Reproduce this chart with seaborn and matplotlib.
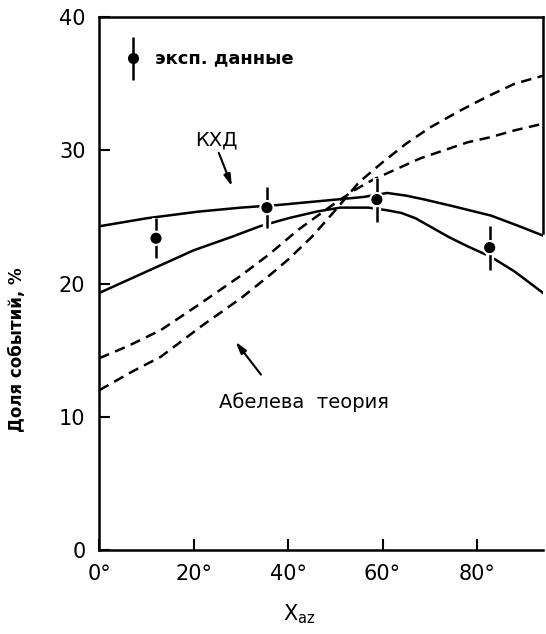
import numpy as np
import pandas as pd
import matplotlib
matplotlib.use("Agg")
import matplotlib.pyplot as plt
import matplotlib.patheffects as pe
import seaborn as sns

# Experimental points: azimuthal angle (deg), event share (%), error (%)
exp_angle = [12.0, 35.5, 58.8, 82.7]
exp_share = [23.4, 25.7, 26.3, 22.7]
exp_err = [1.5, 1.55, 1.65, 1.65]

# QCD predictions (solid curves)
qcd_hi_angle = [0, 10, 21, 30, 38, 47, 56, 61, 65, 69, 75, 83, 89, 94]
qcd_hi_share = [24.3, 24.9, 25.4, 25.7, 25.9, 26.2, 26.5, 26.8, 26.6, 26.3, 25.8, 25.1, 24.3, 23.6]
qcd_lo_angle = [0, 10, 20, 28, 34, 40, 46, 51, 57, 61, 64, 67, 70, 74, 78, 83, 88, 94]
qcd_lo_share = [19.3, 20.9, 22.5, 23.5, 24.3, 24.9, 25.4, 25.7, 25.7, 25.5, 25.3, 24.9, 24.3, 23.5, 22.8, 22.0, 20.9, 19.3]

# Abelian theory predictions (dashed curves)
ab1_angle = [0, 6, 13, 21, 30, 36, 42, 49, 54, 58, 63, 68, 73, 78, 83, 88, 94]
ab1_share = [14.4, 15.3, 16.5, 18.4, 20.6, 22.2, 24.0, 25.8, 27.0, 27.8, 28.6, 29.4, 30.0, 30.6, 31.0, 31.5, 32.0]
ab2_angle = [0, 7, 13, 22, 30, 36, 40, 45, 50, 55, 60, 65, 70, 76, 82, 88, 94]
ab2_share = [12.0, 13.4, 14.5, 16.9, 18.9, 20.6, 21.8, 23.5, 25.5, 27.6, 29.1, 30.5, 31.7, 32.9, 34.0, 35.0, 35.6]

y_ticks = [0, 10, 20, 30, 40]
x_ticks = [0, 20, 40, 60, 80]
x_ticklabels = ["0°", "20°", "40°", "60°", "80°"]

sns.set_style("ticks")
plt.rcParams["font.family"] = ["DejaVu Sans"]
plt.rcParams.update({"text.color": "black", "axes.labelcolor": "black",
                     "xtick.color": "black", "ytick.color": "black"})

fig = plt.figure(figsize=(5.46, 6.34), dpi=100)
ax = fig.add_axes([0.182, 0.1325, 0.8125, 0.8405])

curves = pd.concat([
    pd.DataFrame({"angle": qcd_hi_angle, "share": qcd_hi_share, "curve": "qcd_hi"}),
    pd.DataFrame({"angle": qcd_lo_angle, "share": qcd_lo_share, "curve": "qcd_lo"}),
    pd.DataFrame({"angle": ab1_angle, "share": ab1_share, "curve": "ab1"}),
    pd.DataFrame({"angle": ab2_angle, "share": ab2_share, "curve": "ab2"}),
])

for name, ls in [("qcd_hi", "-"), ("qcd_lo", "-"),
                 ("ab1", (0, (4.2, 2.6))), ("ab2", (0, (4.2, 2.6)))]:
    sub = curves[curves["curve"] == name]
    sns.lineplot(data=sub, x="angle", y="share", ax=ax, color="black",
                 linewidth=1.8, linestyle=ls, sort=True, estimator=None,
                 legend=False)

halo = [pe.Stroke(linewidth=6, foreground="white"), pe.Normal()]
eb = ax.errorbar(exp_angle, exp_share, yerr=exp_err, fmt="o", color="black",
                 markersize=7, elinewidth=1.8, capsize=0, zorder=5)
eb[0].set_path_effects([pe.Stroke(linewidth=4, foreground="white"), pe.Normal()])
for coll in eb[2]:
    coll.set_path_effects(halo)

# legend entry drawn as a sample point
ax.errorbar([7.1], [36.9], yerr=[1.6], fmt="o", color="black",
            markersize=7, elinewidth=1.8, capsize=0, zorder=5)
ax.text(11.8, 36.9, "эксп. данные", fontsize=13, fontweight="bold",
        va="center", ha="left", color="black")

# curve annotations
ax.text(24.7, 30.8, "КХД", fontsize=14, ha="center", va="center", color="black")
ax.annotate("", xy=(28.3, 27.1), xytext=(25.1, 30.0),
            arrowprops=dict(arrowstyle="-|>,head_length=0.7,head_width=0.2",
                            color="black", lw=1.5))
ax.text(43.3, 11.1, "Абелева  теория", fontsize=14, ha="center", va="center",
        color="black")
ax.annotate("", xy=(28.5, 15.8), xytext=(34.6, 13.0),
            arrowprops=dict(arrowstyle="-|>,head_length=0.7,head_width=0.2",
                            color="black", lw=1.5))

ax.set_xlim(0, 94)
ax.set_ylim(0, 40)
ax.set_yticks(y_ticks)
ax.set_xticks(x_ticks)
ax.set_xticklabels(x_ticklabels)
ax.tick_params(direction="in", length=8, width=1.5, labelsize=15, pad=10,
               colors="black")

for side in ["left", "bottom", "top", "right"]:
    ax.spines[side].set_linewidth(1.8)
    ax.spines[side].set_color("black")
ax.spines["right"].set_bounds(23.8, 40)

ax.set_xlabel(r"X$_{\mathregular{az}}$", fontsize=15, color="black")
ax.xaxis.set_label_coords(0.45, -0.098)
ax.set_ylabel("Доля событий, %", fontsize=12, fontweight="bold", color="black")
ax.yaxis.set_label_coords(-0.165, 0.375)

fig.savefig("out.png", dpi=100)
